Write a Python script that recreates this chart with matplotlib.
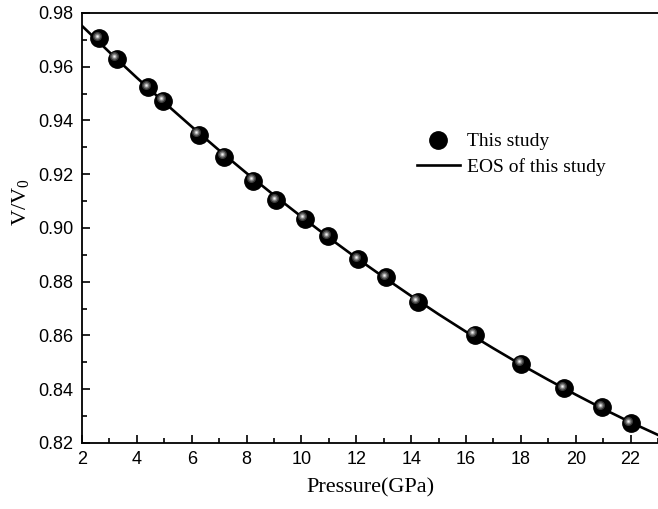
import matplotlib
matplotlib.use("Agg")
import matplotlib.pyplot as plt
from matplotlib.transforms import ScaledTranslation
from matplotlib.ticker import MultipleLocator, FormatStrFormatter

# measured points (pressure in GPa, V/V0)
pressure = [2.63, 3.27, 4.42, 4.97, 6.26, 7.18, 8.25, 9.08, 10.13, 10.98,
            12.08, 13.09, 14.24, 16.32, 18.02, 19.59, 20.97, 22.0]
volume = [0.9706, 0.9629, 0.9523, 0.9474, 0.9346, 0.9265, 0.9176, 0.9104, 0.9035, 0.8970,
          0.8883, 0.8816, 0.8726, 0.8602, 0.8494, 0.8403, 0.8333, 0.8273]

# EOS curve
eos_p = [2, 3, 4, 5, 6, 7, 8, 9, 10, 11, 12, 13, 14, 15, 16, 17, 18, 19, 20, 21, 22, 23]
eos_v = [0.9752, 0.9654, 0.9559, 0.9467, 0.9377, 0.9289, 0.9204, 0.9122, 0.9042, 0.8964,
         0.8889, 0.8817, 0.8747, 0.8679, 0.8614, 0.8552, 0.8492, 0.8435, 0.8380, 0.8327,
         0.8277, 0.8230]

serif = ['Liberation Serif', 'DejaVu Serif']
sans = ['Liberation Sans', 'DejaVu Sans']

fig = plt.figure(figsize=(6.58, 5.09), dpi=100)
ax = fig.add_axes([0.1246, 0.1297, 0.8754, 0.8448])

ax.plot(eos_p, eos_v, color='black', lw=1.9, zorder=2)

# sphere look: black ball with a shifted highlight
ax.plot(pressure, volume, 'o', color='black', ms=12.5, zorder=3)
shift = ScaledTranslation(-2.5 / 100, 2.5 / 100, fig.dpi_scale_trans)
for size, col in [(6.5, '#3a3a3a'), (4.5, '#777777'), (2.6, '#bbbbbb'), (1.2, '#f2f2f2')]:
    ax.plot(pressure, volume, 'o', color=col, ms=size, mew=0, zorder=4,
            transform=ax.transData + shift)

ax.set_xlim(2, 23)
ax.set_ylim(0.82, 0.98)
ax.xaxis.set_major_locator(MultipleLocator(2))
ax.xaxis.set_minor_locator(MultipleLocator(1))
ax.yaxis.set_major_locator(MultipleLocator(0.02))
ax.yaxis.set_minor_locator(MultipleLocator(0.01))
ax.yaxis.set_major_formatter(FormatStrFormatter('%.2f'))
ax.tick_params(which='both', direction='in', top=False, right=False, width=1.2)
ax.tick_params(which='major', length=6, pad=6)
ax.tick_params(which='minor', length=3.5)
for lab in ax.get_xticklabels() + ax.get_yticklabels():
    lab.set_family(sans)
    lab.set_fontsize(13)
for side in ['left', 'bottom', 'top']:
    ax.spines[side].set_linewidth(1.3)
ax.spines['right'].set_visible(False)

ax.set_xlabel('Pressure(GPa)', family=serif, fontsize=16, labelpad=7)
ax.set_ylabel('V/V$_\\mathregular{0}$', family=serif, fontsize=16)
ax.yaxis.set_label_coords(-0.086, 0.56)

# legend drawn as in the original
h_pts, = ax.plot([], [], 'o', color='black', ms=12.5)
h_line, = ax.plot([], [], color='black', lw=1.9)
ax.legend([h_pts, h_line], ['This study', 'EOS of this study'],
          loc='upper left', bbox_to_anchor=(0.551, 0.762), frameon=False,
          prop={'family': serif, 'size': 14}, handlelength=2.2,
          handletextpad=0.4, labelspacing=0.41)

fig.savefig('out.png', dpi=100)
